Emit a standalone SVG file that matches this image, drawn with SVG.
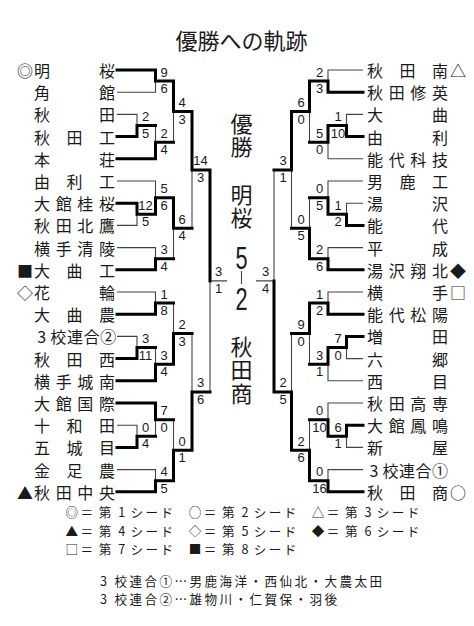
<svg xmlns="http://www.w3.org/2000/svg" width="474" height="626" viewBox="0 0 474 626">
<style>
.n{font-family:"Noto Sans CJK JP","Noto Sans CJK SC",sans-serif;font-size:16px;text-anchor:middle;dominant-baseline:central;fill:#1a1a1a}
.c{font-family:"Noto Sans CJK JP","Noto Sans CJK SC",sans-serif;font-size:22px;text-anchor:middle;dominant-baseline:central;fill:#1a1a1a}
.g{font-family:"Noto Sans CJK JP","Noto Sans CJK SC",sans-serif;font-size:12.6px;text-anchor:middle;dominant-baseline:central;fill:#1a1a1a}
.f{font-family:"Noto Sans CJK JP","Noto Sans CJK SC",sans-serif;font-size:12.6px;letter-spacing:2.4px;dominant-baseline:central;fill:#1a1a1a}
.s{font-family:"Liberation Sans",Arial,sans-serif;font-size:13px;text-anchor:middle;fill:#1a1a1a}
.b{font-family:"Liberation Sans",Arial,sans-serif;font-size:32px;text-anchor:middle;fill:#1a1a1a}
.thin{fill:none;stroke:#444;stroke-width:1.1}
.thick{fill:none;stroke:#000;stroke-width:3;stroke-linecap:square}
</style>
<rect width="474" height="626" fill="#fff"/>
<g id="title"><text class="c" x="241.5" y="39">優勝への軌跡</text></g>

<g id="connectors">
<path class="thin" d="M117,92.2H155.5V81.1 M117,114.4H137V125.5 M155.5,125.5V142.15 M173.5,142.15V111.6 M117,225.4H137V214.3 M117,181H155.5V197.65 M117,247.6H155.5V258.7 M173.5,258.7V228.2 M192,228.2V169.9 M117,292H155.5V303.1 M117,336.4H137V347.5 M155.5,347.5V364.15 M173.5,303.1V333.6 M117,425.2H137V436.3 M155.5,436.3V419.65 M117,469.6H155.5V480.7 M173.5,419.65V450.2 M192,333.6V391.9 M210,391.9V280.9 M210,280.9H227"/>
<path class="thin" d="M363,70H328V81.1 M363,114.4H346.5V125.5 M363,158.8H328V142.15 M309.5,142.15V111.6 M363,203.2H346.5V214.3 M363,181H328V197.65 M363,247.6H328V258.7 M309.5,197.65V228.2 M291.5,228.2V169.9 M363,292H328V303.1 M363,358.6H346.5V347.5 M363,380.8H328V364.15 M309.5,364.15V333.6 M363,447.4H346.5V436.3 M363,403H328V419.65 M363,469.6H328V480.7 M309.5,419.65V450.2 M291.5,333.6V391.9 M274,169.9V280.9 M274,280.9H256"/>
<path class="thick" d="M117,70H155.5V81.1 M117,136.6H137V125.5 M137,125.5H155.5 M117,158.8H155.5V142.15 M155.5,81.1H173.5V111.6 M155.5,142.15H173.5 M117,203.2H137V214.3 M137,214.3H155.5V197.65 M117,269.8H155.5V258.7 M155.5,197.65H173.5V228.2 M155.5,258.7H173.5 M173.5,111.6H192V169.9 M173.5,228.2H192 M117,314.2H155.5V303.1 M117,358.6H137V347.5 M137,347.5H155.5 M117,380.8H155.5V364.15 M155.5,303.1H173.5 M155.5,364.15H173.5V333.6 M117,447.4H137V436.3 M117,403H155.5V419.65 M137,436.3H155.5 M117,491.8H155.5V480.7 M155.5,419.65H173.5 M155.5,480.7H173.5V450.2 M173.5,333.6H192 M173.5,450.2H192V391.9 M192,169.9H210V280.9 M192,391.9H210"/>
<path class="thick" d="M363,92.2H328V81.1 M363,136.6H346.5V125.5 M346.5,125.5H328V142.15 M328,81.1H309.5V111.6 M328,142.15H309.5 M363,225.4H346.5V214.3 M346.5,214.3H328V197.65 M363,269.8H328V258.7 M328,197.65H309.5 M328,258.7H309.5V228.2 M309.5,111.6H291.5V169.9 M309.5,228.2H291.5 M363,314.2H328V303.1 M363,336.4H346.5V347.5 M346.5,347.5H328V364.15 M328,303.1H309.5V333.6 M328,364.15H309.5 M363,425.2H346.5V436.3 M346.5,436.3H328V419.65 M363,491.8H328V480.7 M328,419.65H309.5 M328,480.7H309.5V450.2 M309.5,333.6H291.5 M309.5,450.2H291.5V391.9 M291.5,169.9H274 M291.5,391.9H274V280.9"/>
<path class="thin" d="M241.5,271V284"/>
</g>

<g id="scores-left">
<text class="s" x="164" y="76.6">9</text><text class="s" x="164" y="93.1">6</text>
<text class="s" x="145.5" y="121">2</text><text class="s" x="145.5" y="137.5">5</text>
<text class="s" x="164" y="137.65">2</text><text class="s" x="164" y="154.15">4</text>
<text class="s" x="182" y="107.1">4</text><text class="s" x="182" y="123.6">3</text>
<text class="s" x="145.5" y="209.8">12</text><text class="s" x="145.5" y="226.3">5</text>
<text class="s" x="164" y="193.15">5</text><text class="s" x="164" y="209.65">6</text>
<text class="s" x="164" y="254.2">3</text><text class="s" x="164" y="270.7">4</text>
<text class="s" x="182" y="223.7">6</text><text class="s" x="182" y="240.2">4</text>
<text class="s" x="200.5" y="165.4">14</text><text class="s" x="200.5" y="181.9">3</text>
<text class="s" x="164" y="298.6">1</text><text class="s" x="164" y="315.1">8</text>
<text class="s" x="145.5" y="343">3</text><text class="s" x="145.5" y="359.5">11</text>
<text class="s" x="164" y="359.65">3</text><text class="s" x="164" y="376.15">4</text>
<text class="s" x="182" y="329.1">2</text><text class="s" x="182" y="345.6">3</text>
<text class="s" x="145.5" y="431.8">0</text><text class="s" x="145.5" y="448.3">4</text>
<text class="s" x="164" y="415.15">7</text><text class="s" x="164" y="431.65">0</text>
<text class="s" x="164" y="476.2">4</text><text class="s" x="164" y="492.7">5</text>
<text class="s" x="182" y="445.7">0</text><text class="s" x="182" y="462.2">1</text>
<text class="s" x="200.5" y="387.4">3</text><text class="s" x="200.5" y="403.9">6</text>
<text class="s" x="218.5" y="276.4">3</text><text class="s" x="218.5" y="292.9">1</text>
</g>
<g id="scores-right">
<text class="s" x="319.5" y="76.6">2</text><text class="s" x="319.5" y="93.1">3</text>
<text class="s" x="338" y="121">1</text><text class="s" x="338" y="137.5">10</text>
<text class="s" x="319.5" y="137.65">5</text><text class="s" x="319.5" y="154.15">0</text>
<text class="s" x="301" y="107.1">6</text><text class="s" x="301" y="123.6">0</text>
<text class="s" x="338" y="209.8">1</text><text class="s" x="338" y="226.3">2</text>
<text class="s" x="319.5" y="193.15">0</text><text class="s" x="319.5" y="209.65">5</text>
<text class="s" x="319.5" y="254.2">2</text><text class="s" x="319.5" y="270.7">6</text>
<text class="s" x="301" y="223.7">0</text><text class="s" x="301" y="240.2">5</text>
<text class="s" x="283" y="165.4">3</text><text class="s" x="283" y="181.9">1</text>
<text class="s" x="319.5" y="298.6">1</text><text class="s" x="319.5" y="315.1">2</text>
<text class="s" x="338" y="343">7</text><text class="s" x="338" y="359.5">0</text>
<text class="s" x="319.5" y="359.65">3</text><text class="s" x="319.5" y="376.15">1</text>
<text class="s" x="301" y="329.1">9</text><text class="s" x="301" y="345.6">0</text>
<text class="s" x="338" y="431.8">6</text><text class="s" x="338" y="448.3">1</text>
<text class="s" x="319.5" y="415.15">0</text><text class="s" x="319.5" y="431.65">10</text>
<text class="s" x="319.5" y="476.2">0</text><text class="s" x="319.5" y="492.7">16</text>
<text class="s" x="301" y="445.7">2</text><text class="s" x="301" y="462.2">6</text>
<text class="s" x="283" y="387.4">2</text><text class="s" x="283" y="403.9">5</text>
<text class="s" x="265.5" y="276.4">3</text><text class="s" x="265.5" y="292.9">4</text>
</g>

<g id="center">
<text class="c" x="241.5 241.5" y="122 145">優勝</text>
<text class="c" x="241.5 241.5" y="193 216">明桜</text>
<text class="b" transform="translate(241.5,268.5) scale(0.68,1)">5</text>
<text class="b" transform="translate(241.5,310) scale(0.68,1)">2</text>
<text class="c" x="241.5 241.5 241.5" y="345 368 391.5">秋田商</text>
</g>

<g id="L01"><text class="n" x="25" y="70">◎</text><text class="n" x="42 107" y="70">明桜</text></g>
<g id="L02"><text class="n" x="42 107" y="92.2">角館</text></g>
<g id="L03"><text class="n" x="42 107" y="114.4">秋田</text></g>
<g id="L04"><text class="n" x="42 74.5 107" y="136.6">秋田工</text></g>
<g id="L05"><text class="n" x="42 107" y="158.8">本荘</text></g>
<g id="L06"><text class="n" x="42 74.5 107" y="181">由利工</text></g>
<g id="L07"><text class="n" x="42 63.7 85.3 107" y="203.2">大館桂桜</text></g>
<g id="L08"><text class="n" x="42 63.7 85.3 107" y="225.4">秋田北鷹</text></g>
<g id="L09"><text class="n" x="42 63.7 85.3 107" y="247.6">横手清陵</text></g>
<g id="L10"><text class="n" x="25" y="269.8">■</text><text class="n" x="42 74.5 107" y="269.8">大曲工</text></g>
<g id="L11"><text class="n" x="25" y="292">◇</text><text class="n" x="42 107" y="292">花輪</text></g>
<g id="L12"><text class="n" x="42 74.5 107" y="314.2">大曲農</text></g>
<g id="L13"><text class="n" x="41.7 58.3 75 91.7 108.3" y="336.4">3校連合②</text></g>
<g id="L14"><text class="n" x="42 74.5 107" y="358.6">秋田西</text></g>
<g id="L15"><text class="n" x="42 63.7 85.3 107" y="380.8">横手城南</text></g>
<g id="L16"><text class="n" x="42 63.7 85.3 107" y="403">大館国際</text></g>
<g id="L17"><text class="n" x="42 74.5 107" y="425.2">十和田</text></g>
<g id="L18"><text class="n" x="42 74.5 107" y="447.4">五城目</text></g>
<g id="L19"><text class="n" x="42 74.5 107" y="469.6">金足農</text></g>
<g id="L20"><text class="n" x="25" y="491.8">▲</text><text class="n" x="42 63.7 85.3 107" y="491.8">秋田中央</text></g>

<g id="R01"><text class="n" x="375 407.5 440" y="70">秋田南</text><text class="n" x="458" y="70">△</text></g>
<g id="R02"><text class="n" x="375 396.7 418.3 440" y="92.2">秋田修英</text></g>
<g id="R03"><text class="n" x="375 440" y="114.4">大曲</text></g>
<g id="R04"><text class="n" x="375 440" y="136.6">由利</text></g>
<g id="R05"><text class="n" x="375 396.7 418.3 440" y="158.8">能代科技</text></g>
<g id="R06"><text class="n" x="375 407.5 440" y="181">男鹿工</text></g>
<g id="R07"><text class="n" x="375 440" y="203.2">湯沢</text></g>
<g id="R08"><text class="n" x="375 440" y="225.4">能代</text></g>
<g id="R09"><text class="n" x="375 440" y="247.6">平成</text></g>
<g id="R10"><text class="n" x="375 396.7 418.3 440" y="269.8">湯沢翔北</text><text class="n" x="458" y="269.8">◆</text></g>
<g id="R11"><text class="n" x="375 440" y="292">横手</text><text class="n" x="458" y="292">□</text></g>
<g id="R12"><text class="n" x="375 396.7 418.3 440" y="314.2">能代松陽</text></g>
<g id="R13"><text class="n" x="375 440" y="336.4">増田</text></g>
<g id="R14"><text class="n" x="375 440" y="358.6">六郷</text></g>
<g id="R15"><text class="n" x="375 440" y="380.8">西目</text></g>
<g id="R16"><text class="n" x="375 396.7 418.3 440" y="403">秋田高専</text></g>
<g id="R17"><text class="n" x="375 396.7 418.3 440" y="425.2">大館鳳鳴</text></g>
<g id="R18"><text class="n" x="375 440" y="447.4">新屋</text></g>
<g id="R19"><text class="n" x="374 390.5 407 423.5 440" y="469.6">3校連合①</text></g>
<g id="R20"><text class="n" x="375 407.5 440" y="491.8">秋田商</text><text class="n" x="458" y="491.8">○</text></g>

<g id="legend">
<text class="g" x="71.7 86.7 105 121.7 136.7 151.7 166.7" y="511.7">◎＝第1シード</text>
<text class="g" x="195 210 228.3 245 260 275 290" y="511.7">○＝第2シード</text>
<text class="g" x="318 333 351.3 368 383 398 413" y="511.7">△＝第3シード</text>
<text class="g" x="71.7 86.7 105 121.7 136.7 151.7 166.7" y="530">▲＝第4シード</text>
<text class="g" x="195 210 228.3 245 260 275 290" y="530">◇＝第5シード</text>
<text class="g" x="318 333 351.3 368 383 398 413" y="530">◆＝第6シード</text>
<text class="g" x="71.7 86.7 105 121.7 136.7 151.7 166.7" y="548.3">□＝第7シード</text>
<text class="g" x="195 210 228.3 245 260 275 290" y="548.3">■＝第8シード</text>
</g>
<g id="notes">
<text class="f" x="100" y="580">3 校連合①…男鹿海洋・西仙北・大農太田</text>
<text class="f" x="100" y="598.3">3 校連合②…雄物川・仁賀保・羽後</text>
</g>
</svg>
